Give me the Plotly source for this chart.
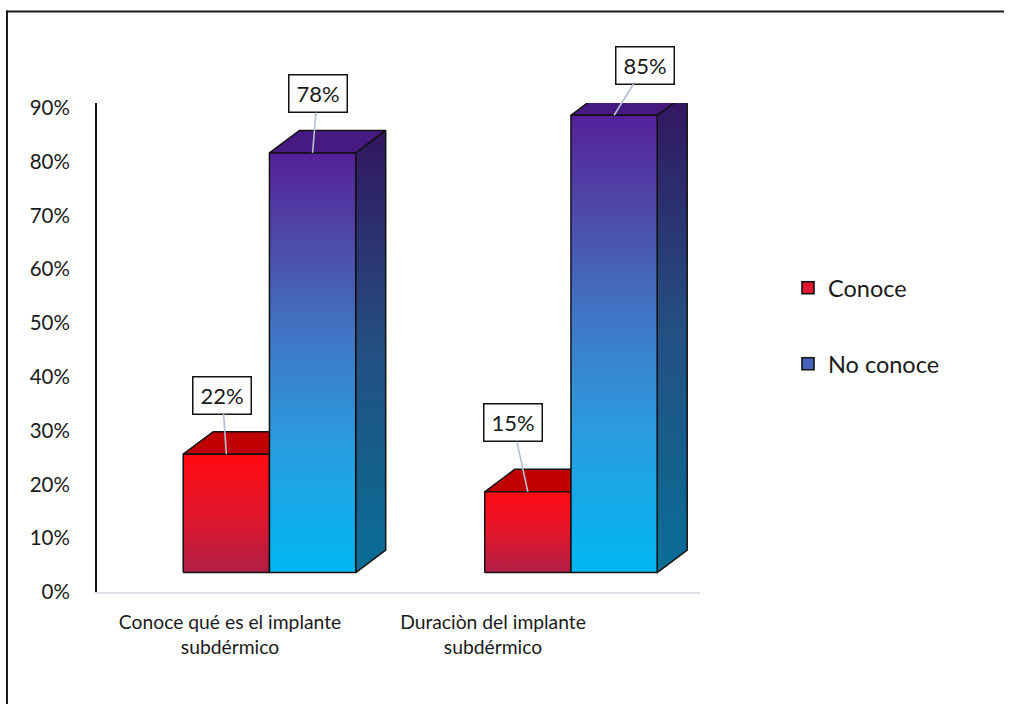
import plotly.graph_objects as go

# --- data -------------------------------------------------------------
categories = ["Conoce qué es el implante<br>subdérmico", "Duraciòn del implante<br>subdérmico"]
series_names = ["Conoce", "No conoce"]
conoce = [22, 15]
no_conoce = [78, 85]
y_ticks = [0, 10, 20, 30, 40, 50, 60, 70, 80, 90]
y_tick_labels = [f"{t}%" for t in y_ticks]

# --- 3D box styling (axis units) ---------------------------------------
FONT = "Lato"
TXT = "#1a1a1a"
GROUP_LEFT = 0.286   # front face offset inside each category slot
BAR_W = 0.286        # front face width
DEPTH_X = 0.0995     # receding depth, horizontal
DEPTH_Y = 4.18       # receding depth, vertical
BASE = 3.62          # lift of the front bottom edge

styles = {
    "Conoce": dict(
        front=[[0, "#B01F45"], [0.5, "#E3162C"], [1, "#FF0A10"]],
        top="#C00000",
        side=[[0, "#7A0A18"], [1, "#900010"]],
        legend="#E31630",
    ),
    "No conoce": dict(
        front=[[0, "#00B6F2"], [0.3, "#2A9DE0"], [0.55, "#3F78C6"], [0.8, "#4E48A8"], [1, "#55209A"]],
        top="#461A80",
        side=[[0, "#086E96"], [0.5, "#245082"], [1, "#331560"]],
        legend="#4A62B8",
    ),
}

# per-label offset of the value box from its anchor (pixels)
label_offsets = {
    ("Conoce", 0): (-4, -59),
    ("No conoce", 0): (5, -59),
    ("Conoce", 1): (-15, -69),
    ("No conoce", 1): (31, -50),
}

fig = go.Figure()
OUT = dict(color="#111111", width=1.5)


def poly(xs, ys, **kw):
    fig.add_trace(go.Scatter(
        x=xs + [xs[0]], y=ys + [ys[0]], mode="lines", fill="toself",
        line=OUT, hoverinfo="skip", showlegend=False, **kw))


annotations = []
for s, (name, vals) in enumerate(zip(series_names, [conoce, no_conoce])):
    st = styles[name]
    for i, v in enumerate(vals):
        x0 = i + GROUP_LEFT + s * BAR_W
        x1 = x0 + BAR_W
        y0 = BASE
        y1 = BASE + v
        # side face
        poly([x1, x1 + DEPTH_X, x1 + DEPTH_X, x1],
             [y0, y0 + DEPTH_Y, y1 + DEPTH_Y, y1],
             fillgradient=dict(type="vertical", colorscale=st["side"]))
        # top face
        poly([x0, x1, x1 + DEPTH_X, x0 + DEPTH_X],
             [y1, y1, y1 + DEPTH_Y, y1 + DEPTH_Y],
             fillcolor=st["top"])
        # front face
        poly([x0, x1, x1, x0], [y0, y0, y1, y1],
             fillgradient=dict(type="vertical", colorscale=st["front"]))
        ax, ay = label_offsets[(name, i)]
        annotations.append(dict(
            x=(x0 + x1) / 2, y=y1, xref="x", yref="y",
            text=f"{v}%", showarrow=True, arrowhead=0, arrowwidth=1.6,
            arrowcolor="#B4C0D6", ax=ax, ay=ay, standoff=0, startstandoff=0,
            font=dict(family=FONT, size=22, color=TXT),
            bgcolor="white", bordercolor="#111111", borderwidth=1.5,
            borderpad=0, width=57, height=36,
        ))

# legend entries
for k, name in enumerate(series_names):
    fig.add_trace(go.Bar(
        x=[None], y=[None], name=name,
        marker=dict(color=styles[name]["legend"], line=dict(color="#111111", width=1.6)),
        legend="legend" if k == 0 else "legend2",
    ))

# category labels on their own axis
fig.add_trace(go.Scatter(
    x=categories, y=[0, 0], xaxis="x2", yaxis="y", mode="markers",
    marker=dict(opacity=0), hoverinfo="skip", showlegend=False))

W, H = 1011, 704
L, R, T, B = 97, 700, 103, 592
PW, PH = R - L, B - T


def px_x(p):
    return (p - L) / PW


def px_y(p):
    return (B - p) / PH


FRAME = dict(color="#1a1a1a", width=2)

fig.update_layout(
    width=W, height=H,
    margin=dict(l=L, r=W - R, t=T, b=H - B),
    paper_bgcolor="white", plot_bgcolor="rgba(0,0,0,0)",
    font=dict(family=FONT, color=TXT),
    barmode="overlay",
    xaxis=dict(range=[0, 2], showgrid=False, zeroline=False,
               showticklabels=False, ticks="",
               showline=True, linecolor="#DCE0E8", linewidth=2,
               fixedrange=True),
    xaxis2=dict(type="category", anchor="y", side="bottom", range=[-0.5, 1.5],
                domain=[px_x(98.5), px_x(624.5)], showgrid=False, zeroline=False,
                showline=False, ticks="", ticklabelstandoff=17,
                tickfont=dict(family=FONT, size=19.3, color=TXT)),
    yaxis=dict(range=[0, 90.9], tickvals=y_ticks, ticktext=y_tick_labels,
               showgrid=False, zeroline=False, showline=True,
               linecolor="#111111", linewidth=2, ticks="",
               ticklabelstandoff=21,
               tickfont=dict(family=FONT, size=20.5, color=TXT)),
    legend=dict(x=px_x(788), y=px_y(288), xanchor="left", yanchor="middle",
                font=dict(family=FONT, size=23.5, color=TXT),
                bgcolor="rgba(0,0,0,0)"),
    legend2=dict(x=px_x(788), y=px_y(364), xanchor="left", yanchor="middle",
                 font=dict(family=FONT, size=23.5, color=TXT),
                 bgcolor="rgba(0,0,0,0)"),
    annotations=annotations,
    shapes=[
        # outer frame: left and top edges
        dict(type="line", xref="paper", yref="paper",
             x0=px_x(7), x1=px_x(7), y0=px_y(H), y1=px_y(10.5),
             line=FRAME, layer="below"),
        dict(type="line", xref="paper", yref="paper",
             x0=px_x(6), x1=px_x(1004), y0=px_y(11.5), y1=px_y(11.5),
             line=FRAME, layer="below"),
    ],
)

fig.write_html("out.html")
